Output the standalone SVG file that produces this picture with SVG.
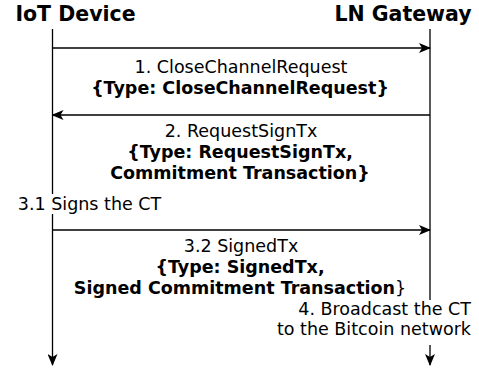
<svg xmlns="http://www.w3.org/2000/svg" width="479" height="368" viewBox="0 0 479 368">
<style>
text{font-family:"DejaVu Sans","Verdana",sans-serif;fill:#000}
.t{font-size:20.5px;font-weight:bold}
.l{font-size:17.5px;text-anchor:middle}
.b{font-weight:bold}
.n{font-weight:normal}
.ln{stroke:#000;stroke-width:1.3;fill:none}
</style>
<defs>
<marker id="ah" viewBox="0 0 12 10" refX="11" refY="5" markerWidth="12" markerHeight="10" markerUnits="userSpaceOnUse" orient="auto">
<path d="M0,0 L12,5 L0,10 L3,5 Z" fill="#000"/>
</marker>
</defs>
<rect width="479" height="368" fill="#fff"/>
<g id="iot-device">
<text class="t" x="75.5" y="21" text-anchor="middle">IoT Device</text>
</g>
<g id="ln-gateway">
<text class="t" x="403" y="21" text-anchor="middle">LN Gateway</text>
</g>
<g id="connectors">
<path class="ln" d="M52.5,29 V194"/>
<path class="ln" d="M52.5,214 V365" marker-end="url(#ah)"/>
<path class="ln" d="M430,29 V300"/>
<path class="ln" d="M430,345 V365" marker-end="url(#ah)"/>
<path class="ln" d="M52.5,48 H430" marker-end="url(#ah)"/>
<path class="ln" d="M430,115 H52.5" marker-end="url(#ah)"/>
<path class="ln" d="M52.5,230 H430" marker-end="url(#ah)"/>
</g>
<g id="msg1">
<text class="l" x="241" y="73">1. CloseChannelRequest</text>
<text class="l b" x="240" y="94">{Type: CloseChannelRequest}</text>
</g>
<g id="msg2">
<text class="l" x="241" y="137">2. RequestSignTx</text>
<text class="l b" x="240" y="158">{Type: RequestSignTx,</text>
<text class="l b" x="240" y="179">Commitment Transaction}</text>
</g>
<g id="step31">
<text class="l" x="89.5" y="210">3.1 Signs the CT</text>
</g>
<g id="msg32">
<text class="l" x="241" y="252">3.2 SignedTx</text>
<text class="l b" x="240" y="273">{Type: SignedTx,</text>
<text class="l b" x="240" y="294">Signed Commitment Transaction<tspan class="n">}</tspan></text>
</g>
<g id="step4">
<text class="l" x="471" y="315" text-anchor="end" style="text-anchor:end">4. Broadcast the CT</text>
<text class="l" x="471" y="335" text-anchor="end" style="text-anchor:end">to the Bitcoin network</text>
</g>
</svg>
